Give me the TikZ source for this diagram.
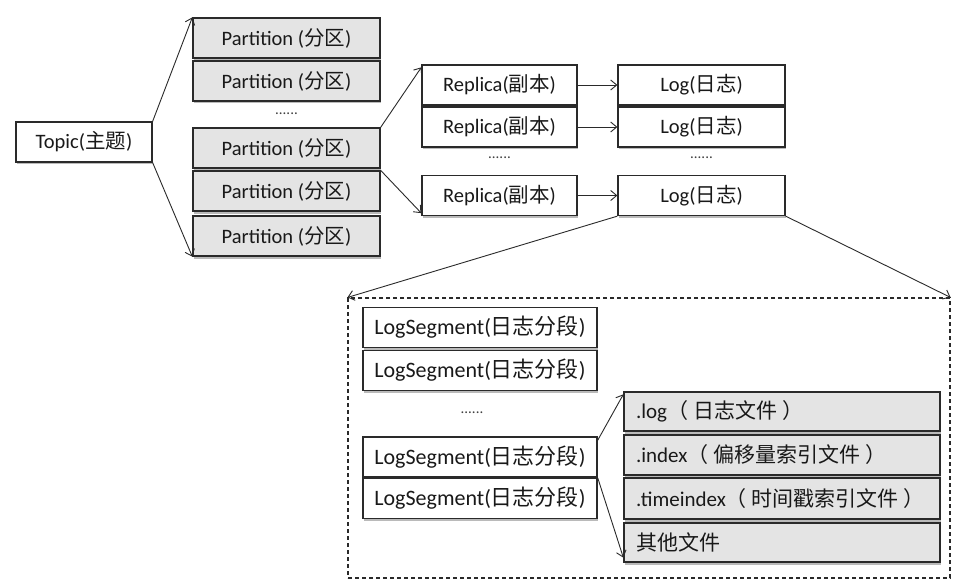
\documentclass[tikz,border=0pt]{standalone}
\usepackage{fontspec}
\setmainfont{Carlito}
\newfontfamily\cjk{Noto Sans CJK SC}
\newcommand{\zh}[1]{{\cjk #1}}
\newcommand{\gp}{\hspace{5pt}}
\usetikzlibrary{arrows.meta,shadows}
\definecolor{lineC}{HTML}{2A2A2A}
\definecolor{grayfill}{HTML}{E4E4E4}
\tikzset{
  box/.style={draw=lineC, line width=1.3pt, inner sep=0pt, text=black!90,
    font=\fontsize{20.5}{22}\selectfont,
    drop shadow={shadow xshift=1.2pt, shadow yshift=-2.5pt, fill=black!60, opacity=0.45}},
  wbox/.style={box, fill=white},
  gbox/.style={box, fill=grayfill},
  segbox/.style={wbox, font=\fontsize{22}{24}\selectfont},
  filebox/.style={gbox, font=\fontsize{21}{23}\selectfont, minimum width=316pt, text width=292pt, align=left},
  conn/.style={draw=lineC, line width=0.9pt, -{Straight Barb[length=6pt,width=10pt]}},
  dots/.style={font=\fontsize{15}{15}\selectfont, text=black!75},
}
\begin{document}
\begin{tikzpicture}[x=1pt,y=-1pt]
\useasboundingbox[fill=white] (0,0) rectangle (963,588);
% Topic
\node[wbox, minimum width=136pt, minimum height=40pt] (topic) at (84,142) {Topic(\zh{主题})};
% Partitions
\foreach \n/\y in {p1/38,p2/81,p3/148,p4/191,p5/236}{
  \node[gbox, minimum width=187pt, minimum height=40pt] (\n) at (286.5,\y) {Partition (\zh{分区})};
}
\node[dots] (pd) at (286.5,114) {......};
% Replicas and logs
\foreach \n/\y in {1/85,2/127,3/195.5}{
  \node[wbox, minimum width=155pt, minimum height=40pt] (r\n) at (499.5,\y) {Replica(\zh{副本})};
  \node[wbox, minimum width=167pt, minimum height=40pt] (l\n) at (701.5,\y) {Log(\zh{日志})};
  \draw[conn] (r\n.east) -- (l\n.west);
}
\node[dots] (rd) at (499.5,158) {......};
\node[dots] (ld) at (701.5,158) {......};
% Dashed container
\node[draw=lineC, dash pattern=on 4pt off 3pt, line width=1.1pt, minimum width=602pt, minimum height=280pt, inner sep=0pt] (dbox) at (649,438) {};
% LogSegments
\foreach \n/\y in {s1/327.5,s2/370.5,s3/457,s4/498.5}{
  \node[segbox, minimum width=234pt, minimum height=40pt] (\n) at (480,\y) {LogSegment(\zh{日志分段})};
}
\node[dots] (sd) at (472,413) {......};
% Files
\node[filebox, minimum height=39pt] (f1) at (782,411.5) {.log\zh{（\gp 日志文件\gp ）}};
\node[filebox, minimum height=40pt] (f2) at (782,455) {.index\zh{（\gp 偏移量索引文件\gp ）}};
\node[filebox, minimum height=41pt] (f3) at (782,498.5) {.timeindex\zh{（\gp 时间戳索引文件\gp ）}};
\node[filebox, minimum height=39pt] (f4) at (782,542.5) {\zh{其他文件}};
% Connectors
\draw[conn] (topic.north east) -- (p1.north west);
\draw[conn] (topic.south east) -- (p5.south west);
\draw[conn] (p3.north east) -- ([yshift=-3pt]r1.north west);
\draw[conn] (p4.north east) -- ([yshift=3pt]r3.south west);
\draw[conn] (l3.south west) -- (dbox.north west);
\draw[conn] (l3.south east) -- (dbox.north east);
\draw[conn] ([yshift=-4pt]s3.north east) -- ([yshift=-3pt]f1.north west);
\draw[conn] (s3.south east) -- ([yshift=5pt]f4.south west);
\end{tikzpicture}
\end{document}
